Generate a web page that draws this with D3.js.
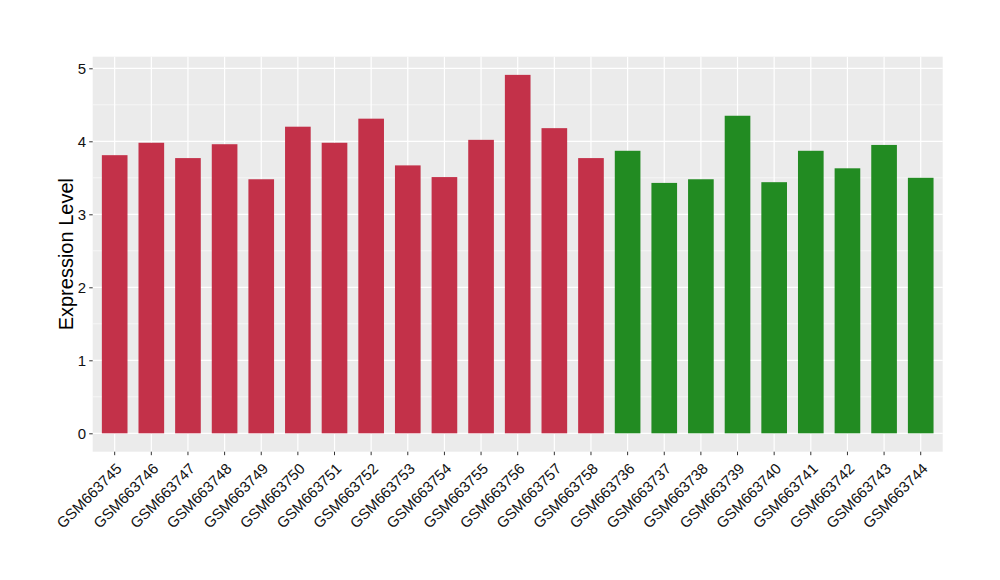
<!DOCTYPE html>
<html><head><meta charset="utf-8">
<script src="https://cdn.jsdelivr.net/npm/d3@7"></script>
<style>body{margin:0;background:#fff}</style>
</head><body>
<svg id="c" width="1000" height="580"></svg>
<script>
const categories = ["GSM663745","GSM663746","GSM663747","GSM663748","GSM663749","GSM663750","GSM663751","GSM663752","GSM663753","GSM663754","GSM663755","GSM663756","GSM663757","GSM663758","GSM663736","GSM663737","GSM663738","GSM663739","GSM663740","GSM663741","GSM663742","GSM663743","GSM663744"];
const values = [3.81,3.98,3.77,3.96,3.48,4.20,3.98,4.31,3.67,3.51,4.02,4.91,4.18,3.77,3.87,3.43,3.48,4.35,3.44,3.87,3.63,3.95,3.50];
const groups = ["A","A","A","A","A","A","A","A","A","A","A","A","A","A","B","B","B","B","B","B","B","B","B"];
const groupColors = {A:"#C33149", B:"#228B22"};
const yTicks = [0,1,2,3,4,5];
const yMinor = [0.5,1.5,2.5,3.5,4.5];

const svg = d3.select("#c");
const L=92.7, R=942.7, T=56.7, B=451.7;
const font = "'Liberation Sans', Arial, sans-serif";

const x = d3.scaleBand().domain(categories).range([L,R]).paddingInner(0).paddingOuter(0.1);
const y = d3.scaleLinear().domain([0,5]).range([433.3,68.3]);

svg.append("rect").attr("x",L).attr("y",T).attr("width",R-L).attr("height",B-T).attr("fill","#EBEBEB");

svg.selectAll(".ymin").data(yMinor).enter().append("line")
 .attr("x1",L).attr("x2",R).attr("y1",d=>y(d)).attr("y2",d=>y(d))
 .attr("stroke","#fff").attr("stroke-width",0.6);
svg.selectAll(".ymaj").data(yTicks).enter().append("line")
 .attr("x1",L).attr("x2",R).attr("y1",d=>y(d)).attr("y2",d=>y(d))
 .attr("stroke","#fff").attr("stroke-width",1.2);
svg.selectAll(".xmaj").data(categories).enter().append("line")
 .attr("x1",d=>x(d)+x.bandwidth()/2).attr("x2",d=>x(d)+x.bandwidth()/2).attr("y1",T).attr("y2",B)
 .attr("stroke","#fff").attr("stroke-width",1.2);

const bw = x.bandwidth()*0.7;
svg.selectAll(".bar").data(categories).enter().append("rect")
 .attr("x",(d)=>x(d)+x.bandwidth()/2-bw/2)
 .attr("width",bw)
 .attr("y",(d,i)=>y(values[i]))
 .attr("height",(d,i)=>y(0)-y(values[i]))
 .attr("fill",(d,i)=>groupColors[groups[i]]);

// y axis
const ya = svg.append("g").attr("transform",`translate(${L},0)`)
 .call(d3.axisLeft(y).tickValues(yTicks).tickSize(3.5).tickPadding(3).tickFormat(d3.format("d")));
ya.select(".domain").remove();
ya.selectAll("line").attr("stroke","#333").attr("stroke-width",1);
ya.selectAll("text").attr("font-family",font).attr("font-size",15).attr("fill","#111");

// x axis
const xa = svg.append("g").attr("transform",`translate(0,${B})`)
 .call(d3.axisBottom(x).tickSize(3.5).tickPadding(0));
xa.select(".domain").remove();
xa.selectAll("line").attr("stroke","#333").attr("stroke-width",1);
xa.selectAll("text").attr("font-family",font).attr("font-size",15).attr("fill","#111")
 .attr("text-anchor","end").attr("dy",null).attr("y",null)
 .attr("transform","translate(8,18) rotate(-45)");

svg.append("text").attr("transform",`translate(73,${(T+B)/2}) rotate(-90)`)
 .attr("text-anchor","middle").attr("font-family",font).attr("font-size",20).attr("fill","#000")
 .text("Expression Level");
</script>
</body></html>
